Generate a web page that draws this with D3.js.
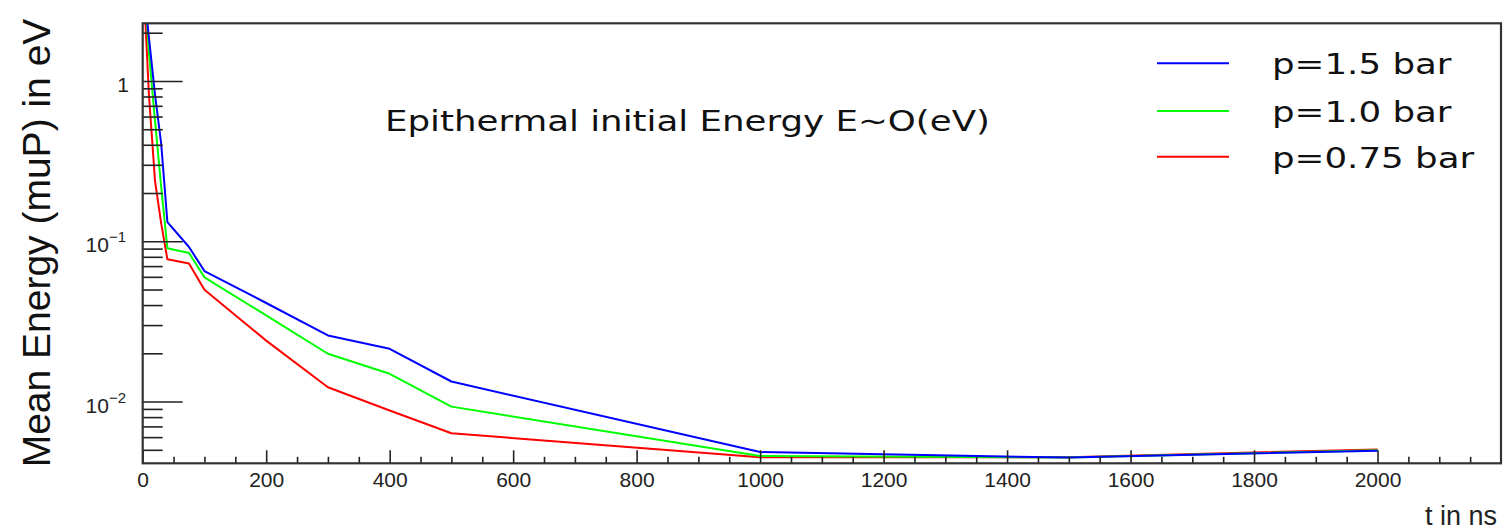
<!DOCTYPE html>
<html>
<head>
<meta charset="utf-8">
<script src="https://cdn.jsdelivr.net/npm/d3@7"></script>
<style>
  html, body { margin: 0; padding: 0; background: #fff; }
  svg { display: block; }
  .tick-label { font-family: "Liberation Sans", Arial, sans-serif; font-size: 21px; fill: #222; }
  .root-text { font-family: "DejaVu Sans", sans-serif; font-size: 28.5px; fill: #111; }
</style>
</head>
<body>
<svg id="chart"></svg>
<script>
// time in ns
const times = [0, 10, 20, 30, 40, 75, 100, 200, 300, 400, 500, 1000, 1500, 2000];

// mean energy in eV, one array per pressure
const p150 = [4.3, 1.88, 0.818, 0.404, 0.1315, 0.0921, 0.0652, 0.0412, 0.02585, 0.02134, 0.01334, 0.00484, 0.00447, 0.00494];
const p100 = [6.3, 1.52, 0.562, 0.2175, 0.0904, 0.0845, 0.0596, 0.0345, 0.01987, 0.0149, 0.0093, 0.00457, 0.00447, 0.00497];
const p075 = [5.3, 0.83, 0.237, 0.129, 0.0772, 0.0726, 0.0499, 0.0240, 0.01228, 0.00879, 0.00634, 0.0045, 0.0045, 0.00503];

const seriesNames = ['p=1.5 bar', 'p=1.0 bar', 'p=0.75 bar'];
const seriesColors = ['#0000ff', '#00ff00', '#ff0000'];

const xMajorTicks = [0, 200, 400, 600, 800, 1000, 1200, 1400, 1600, 1800, 2000];
const yMajorTicks = [1, 0.1, 0.01];
const yTickLabels = [['1', ''], ['10', '\u22121'], ['10', '\u22122']];

const width = 1512;
const height = 530;
const frame = { left: 142.7, right: 1501, top: 23.3, bottom: 463.3 };

const svg = d3.select('#chart')
  .attr('width', width)
  .attr('height', height);

const x = d3.scaleLinear()
  .domain([0, 2200])
  .range([frame.left, frame.right]);

const y = d3.scaleLog()
  .domain([0.00412, 2.29])
  .range([frame.bottom, frame.top]);

// clip lines to the frame
svg.append('clipPath')
  .attr('id', 'frameClip')
  .append('rect')
  .attr('x', frame.left)
  .attr('y', frame.top)
  .attr('width', frame.right - frame.left)
  .attr('height', frame.bottom - frame.top);

// Series lines (red first, blue on top)
const series = [p150, p100, p075].map((vals, i) => ({
  name: seriesNames[i],
  color: seriesColors[i],
  points: times.map((t, j) => ({ t, v: vals[j] }))
}));

const line = d3.line()
  .x(d => x(d.t))
  .y(d => y(d.v));

svg.append('g')
  .attr('clip-path', 'url(#frameClip)')
  .selectAll('path')
  .data(series.slice().reverse())
  .enter()
  .append('path')
  .attr('d', d => line(d.points))
  .attr('fill', 'none')
  .attr('stroke', d => d.color)
  .attr('stroke-width', 2)
  .attr('stroke-linejoin', 'round');

// X axis ticks (inside, pointing up)
const xMinor = d3.range(0, 2201, 50).filter(v => v % 200 !== 0);

svg.append('g')
  .attr('transform', `translate(0,${frame.bottom})`)
  .call(d3.axisBottom(x).tickValues(xMinor).tickSize(-6.5).tickFormat(''))
  .call(g => g.select('.domain').remove());

const xAxis = svg.append('g')
  .attr('transform', `translate(0,${frame.bottom})`)
  .call(d3.axisBottom(x).tickValues(xMajorTicks).tickSize(-13).tickPadding(8).tickFormat(d3.format('d')))
  .call(g => g.select('.domain').remove());

xAxis.selectAll('text')
  .attr('class', 'tick-label')
  .attr('dy', null)
  .attr('y', 23.4)
  .style('font-family', null)
  .style('font-size', null);
xAxis.attr('font-size', null).attr('font-family', null);

// Y axis ticks (inside, pointing right)
const yMinor = [];
[0.001, 0.01, 0.1, 1].forEach(dec => {
  for (let k = 2; k <= 9; k++) {
    const v = dec * k;
    if (v >= y.domain()[0] && v <= y.domain()[1]) yMinor.push(v);
  }
});

svg.append('g')
  .attr('transform', `translate(${frame.left},0)`)
  .call(d3.axisLeft(y).tickValues(yMinor).tickSize(-20).tickFormat(''))
  .call(g => g.select('.domain').remove());

svg.append('g')
  .attr('transform', `translate(${frame.left},0)`)
  .call(d3.axisLeft(y).tickValues(yMajorTicks).tickSize(-40).tickFormat(''))
  .call(g => g.select('.domain').remove());

svg.selectAll('.tick line')
  .attr('stroke', '#222')
  .attr('stroke-width', 1.6);

// Y tick labels with superscript exponent
yMajorTicks.forEach((v, i) => {
  const t = svg.append('text')
    .attr('class', 'tick-label')
    .attr('text-anchor', 'end')
    .attr('x', i === 0 ? 129 : 126)
    .attr('y', y(v) + 11);
  t.append('tspan').text(yTickLabels[i][0]);
  if (yTickLabels[i][1]) {
    t.append('tspan')
      .attr('dy', -10)
      .style('font-size', '15px')
      .text(yTickLabels[i][1]);
  }
});

// Frame
svg.append('rect')
  .attr('x', frame.left)
  .attr('y', frame.top)
  .attr('width', frame.right - frame.left)
  .attr('height', frame.bottom - frame.top)
  .attr('fill', 'none')
  .attr('stroke', '#333')
  .attr('stroke-width', 2.2);

// Axis titles
svg.append('text')
  .attr('transform', 'translate(50,243) rotate(-90)')
  .attr('text-anchor', 'middle')
  .style('font-family', '"Liberation Sans", Arial, sans-serif')
  .style('font-size', '39px')
  .style('fill', '#111')
  .text('Mean Energy (muP) in eV');

svg.append('text')
  .attr('x', 1497)
  .attr('y', 525)
  .attr('text-anchor', 'end')
  .style('font-family', '"Liberation Sans", Arial, sans-serif')
  .style('font-size', '27px')
  .style('fill', '#222')
  .text('t in ns');

// Plot title text (ROOT TLatex, stretched wide)
svg.append('text')
  .attr('class', 'root-text')
  .attr('transform', 'translate(385,131) scale(1.25,1)')
  .text('Epithermal initial Energy E~O(eV)');

// Legend
const legendRows = [63.3, 111, 156.7];
const legend = svg.append('g');

legend.selectAll('line')
  .data(series)
  .enter()
  .append('line')
  .attr('x1', 1157)
  .attr('x2', 1229)
  .attr('y1', (d, i) => legendRows[i])
  .attr('y2', (d, i) => legendRows[i])
  .attr('stroke', d => d.color)
  .attr('stroke-width', 2);

legend.selectAll('text')
  .data(series)
  .enter()
  .append('text')
  .attr('class', 'root-text')
  .attr('transform', (d, i) => `translate(1272,${legendRows[i] + 11}) scale(1.25,1)`)
  .text(d => d.name);
</script>
</body>
</html>
